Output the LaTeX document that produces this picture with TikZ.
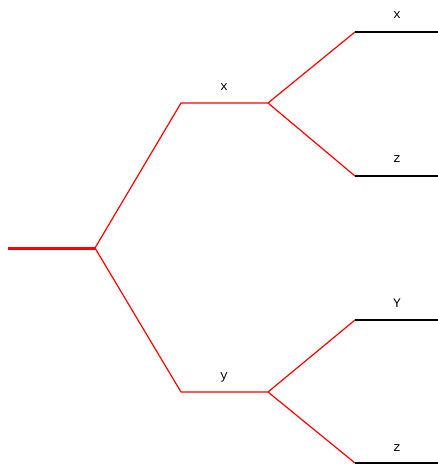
\documentclass[tikz,border=0pt]{standalone}
\usepackage{fontspec}
\setmonofont{Liberation Mono}
\usetikzlibrary{positioning}

\begin{document}
\begin{tikzpicture}[x=1pt, y=-1pt,
    branch/.style={red, line width=1.2pt},
    stem/.style={red, line width=3pt},
    leaf/.style={black, line width=1.6pt},
    lbl/.style={font=\ttfamily\fontsize{13}{15}\selectfont, inner sep=1pt}]
		\useasboundingbox (0,0) rectangle (438,464);

		% root and inner forks
		\coordinate (in) at (8,248);
		\coordinate (root) at (95,248);
		\coordinate (up) at (181,103);
		\coordinate (upfork) at (268,103);
		\coordinate (dn) at (181,392);
		\coordinate (dnfork) at (268,392);

		% leaves
		\coordinate (l1) at (355,32);   \coordinate (e1) at (438,32);
		\coordinate (l2) at (355,176);  \coordinate (e2) at (438,176);
		\coordinate (l3) at (355,320);  \coordinate (e3) at (438,320);
		\coordinate (l4) at (355,463);  \coordinate (e4) at (438,463);

		\draw[stem] (in) -- (root);
		\draw[branch] (root) -- (up) -- (upfork);
		\draw[branch] (root) -- (dn) -- (dnfork);
		\draw[branch] (upfork) -- (l1);
		\draw[branch] (upfork) -- (l2);
		\draw[branch] (dnfork) -- (l3);
		\draw[branch] (dnfork) -- (l4);

		\draw[leaf] (l1) -- (e1);
		\draw[leaf] (l2) -- (e2);
		\draw[leaf] (l3) -- (e3);
		\draw[leaf] (l4) -- (e4);

		% labels
		\node[lbl] (tx) at (224,87) {x};
		\node[lbl] (ty) at (224,377) {y};
		\node[lbl] (t1) at (397,15) {x};
		\node[lbl] (t2) at (397,159) {z};
		\node[lbl] (t3) at (397,303) {Y};
		\node[lbl] (t4) at (397,448) {z};
	\end{tikzpicture}
\end{document}
